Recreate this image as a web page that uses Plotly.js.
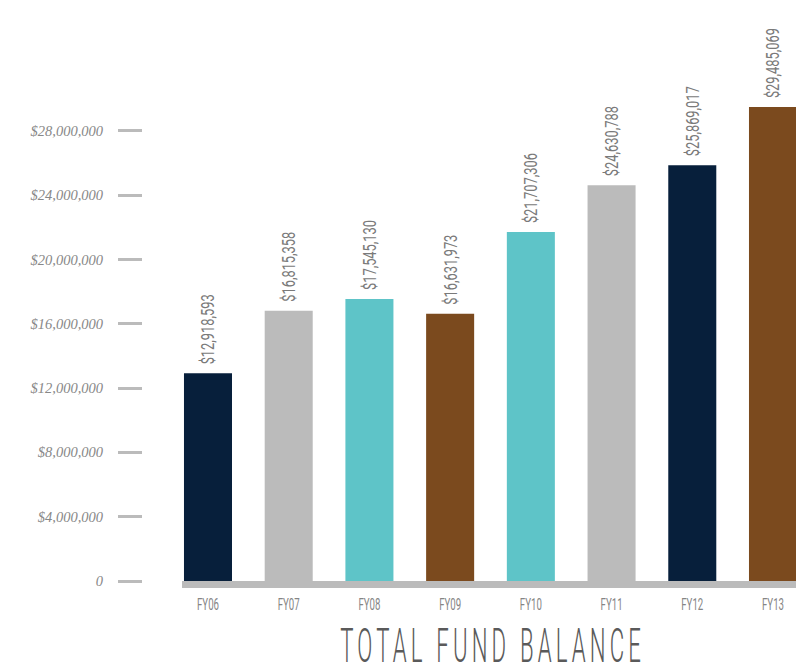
<!DOCTYPE html>
<html>
<head>
<meta charset="utf-8">
<script src="https://cdn.plot.ly/plotly-3.0.1.min.js"></script>
<style>
  html, body { margin: 0; padding: 0; background: #fff; }
  #chart { width: 796px; height: 666px; }
</style>
</head>
<body>
<div id="chart"></div>
<script>
const categories = ["FY06", "FY07", "FY08", "FY09", "FY10", "FY11", "FY12", "FY13"];
const fundBalance = [12918593, 16815358, 17545130, 16631973, 21707306, 24630788, 25869017, 29485069];
const barLabels = ["$12,918,593", "$16,815,358", "$17,545,130", "$16,631,973", "$21,707,306", "$24,630,788", "$25,869,017", "$29,485,069"];
const barColors = ["#071f3b", "#bbbbbb", "#5ec4c8", "#7b4a1e", "#5ec4c8", "#bbbbbb", "#071f3b", "#7b4a1e"];
const yTickVals = [0, 4000000, 8000000, 12000000, 16000000, 20000000, 24000000, 28000000];
const yTickText = ["0", "$4,000,000", "$8,000,000", "$12,000,000", "$16,000,000", "$20,000,000", "$24,000,000", "$28,000,000"];
const chartTitle = "TOTAL FUND BALANCE";

const narrowBase = "Roboto, 'Liberation Sans', sans-serif";

const trace = {
  type: "bar",
  x: categories,
  y: fundBalance,
  marker: { color: barColors },
  width: 0.595,
  text: barLabels,
  textposition: "outside",
  textangle: -90,
  constraintext: "none",
  cliponaxis: false,
  textfont: { family: narrowBase, size: 18, color: "#7a7a7a" },
  hoverinfo: "x+y"
};

const layout = {
  width: 796,
  height: 666,
  margin: { l: 0, r: 0, t: 0, b: 85 },
  paper_bgcolor: "#ffffff",
  plot_bgcolor: "#ffffff",
  showlegend: false,
  font: { family: narrowBase },
  xaxis: {
    domain: [182 / 796, 1],
    range: [-0.322, 7.285],
    type: "category",
    showgrid: false,
    zeroline: false,
    showline: true,
    linecolor: "#bbbbbb",
    linewidth: 7,
    ticks: "",
    tickfont: { family: narrowBase, size: 17, color: "#858585" },
    ticklabelstandoff: 2
  },
  yaxis: {
    range: [0, 36150000],
    anchor: "free",
    position: 142 / 796,
    showgrid: false,
    zeroline: false,
    showline: false,
    tickvals: yTickVals,
    ticktext: yTickText,
    ticks: "outside",
    ticklen: 24,
    tickwidth: 3,
    tickcolor: "#bbbbbb",
    ticklabelstandoff: 12,
    tickfont: { family: "'Liberation Serif', 'DejaVu Serif', serif", size: 14.5, color: "#888888", style: "italic" }
  },
  annotations: [{
    text: chartTitle,
    xref: "paper", yref: "paper",
    x: 492 / 796, y: -(645 - 581) / 581,
    xanchor: "center", yanchor: "middle",
    showarrow: false,
    font: { family: narrowBase, size: 48, color: "#5a5a5a", weight: 300 }
  }]
};

// Squeeze a text horizontally (in its own frame) to mimic a condensed face.
function squeeze(el, newLen, keep, shift) {
  const L = el.getComputedTextLength();
  const anchor = el.getAttribute("text-anchor") || "start";
  const x = parseFloat(el.getAttribute("x")) || 0;
  const start = anchor === "middle" ? x - L / 2 : (anchor === "end" ? x - L : x);
  let newStart = start;
  if (keep === "center") newStart = start + (L - newLen) / 2;
  if (keep === "end") newStart = start + (L - newLen);
  newStart += (shift || 0);
  el.setAttribute("text-anchor", "start");
  el.style.textAnchor = "start";
  el.setAttribute("x", newStart);
  el.setAttribute("textLength", newLen);
  el.setAttribute("lengthAdjust", "spacingAndGlyphs");
}

Plotly.newPlot("chart", [trace], layout, { displayModeBar: false, staticPlot: true }).then(function (gd) {
  const bt = Array.from(gd.querySelectorAll("text.bartext"));
  if (bt.length) {
    const r = 70 / bt[0].getComputedTextLength();
    bt.forEach(function (t) { squeeze(t, t.getComputedTextLength() * r, "start", 6); });
  }
  const xt = Array.from(gd.querySelectorAll(".xtick text"));
  if (xt.length) {
    const r = 22 / xt[0].getComputedTextLength();
    xt.forEach(function (t) { squeeze(t, t.getComputedTextLength() * r, "center", 0); });
  }
  gd.querySelectorAll(".annotation-text").forEach(function (t) {
    t.style.letterSpacing = "9px";
    squeeze(t, 305, "center", 0);
  });
});
</script>
</body>
</html>
